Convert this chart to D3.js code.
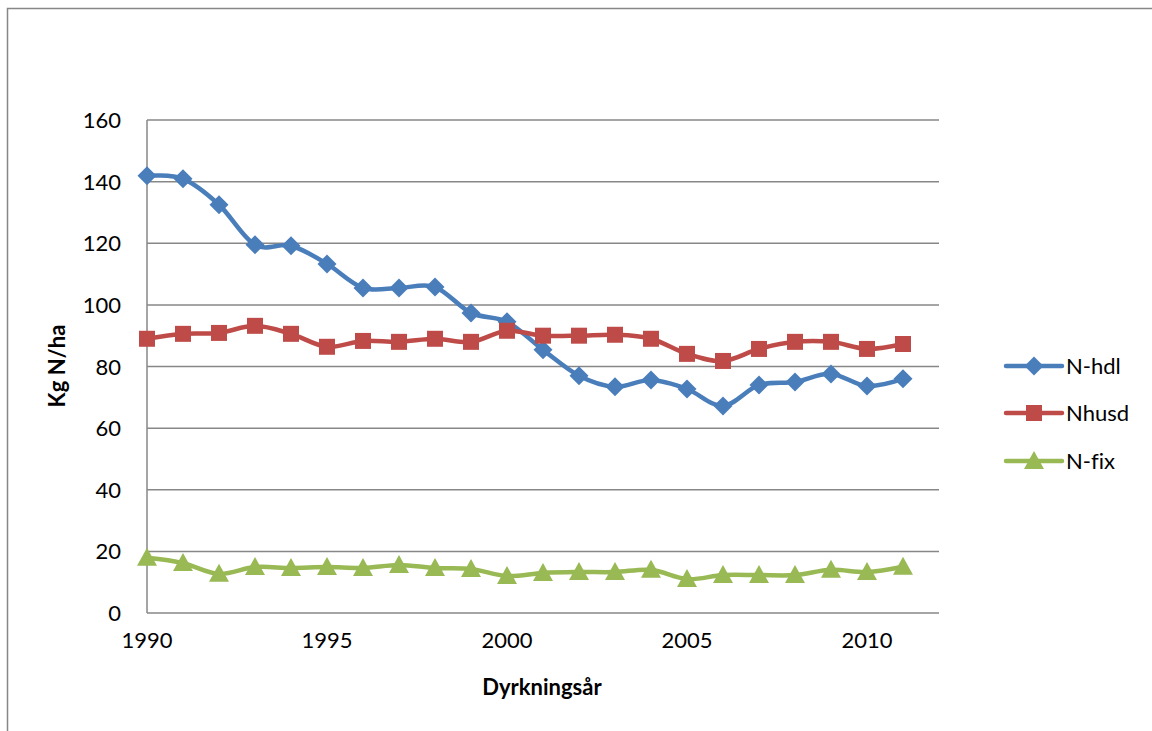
<!DOCTYPE html>
<html>
<head>
<meta charset="utf-8">
<script src="https://cdn.jsdelivr.net/npm/d3@7"></script>
<style>
	body { margin:0; background:#fff; }
	text { font-family: Lato, "Open Sans", sans-serif; fill:#000; font-variant-ligatures:none; }
</style>
</head>
<body>
<div id="idChart"></div>
<script>
var aYears=[1990,1991,1992,1993,1994,1995,1996,1997,1998,1999,2000,2001,2002,2003,2004,2005,2006,2007,2008,2009,2010,2011];
var aNhdl=[141.9,140.9,132.5,119.5,119.2,113.3,105.5,105.5,105.8,97.4,94.5,85.4,77,73.4,75.6,72.7,67.2,74,75,77.6,73.7,76];
var aNhusd=[89,90.6,90.9,93.2,90.6,86.4,88.3,88,89,88,91.6,90,90,90.3,89,84.1,81.8,85.7,88,88,85.7,87.3];
var aNfix=[17.9,16.2,12.7,14.9,14.6,14.9,14.6,15.6,14.6,14.3,12,13,13.3,13.3,14,11,12.3,12.3,12.3,14,13.3,15];
var aYTicks=[0,20,40,60,80,100,120,140,160];
var aXTicks=[1990,1995,2000,2005,2010];

var aSeries=[
	{sName:"N-hdl", aValues:aNhdl, sColor:"#4A7EBB", sShape:"diamond"},
	{sName:"Nhusd", aValues:aNhusd, sColor:"#BE4B48", sShape:"square"},
	{sName:"N-fix", aValues:aNfix, sColor:"#98B954", sShape:"triangle"}
];

var iWidth=1152, iHeight=731;
var sGrid="#878787";
var sFontSize="22px";

var myCanvas=d3.select("#idChart").append("svg")
	.attr("width",iWidth)
	.attr("height",iHeight);

// chart border
myCanvas.append("rect")
	.attr("x",7.5).attr("y",8.5)
	.attr("width",1160).attr("height",740)
	.attr("fill","none").attr("stroke",sGrid).attr("stroke-width",1.5);

var xAxes=d3.scaleLinear().domain([1990,2012]).range([147,939]);
var yAxes=d3.scaleLinear().domain([0,160]).range([613,120]);

// gridlines
myCanvas.selectAll(".grid").data(aYTicks.slice(1)).enter().append("line")
	.attr("class","grid")
	.attr("x1",xAxes(1990)).attr("x2",xAxes(2012))
	.attr("y1",function(d){return yAxes(d);}).attr("y2",function(d){return yAxes(d);})
	.attr("stroke",sGrid).attr("stroke-width",1.5);

// axis lines
myCanvas.append("line")
	.attr("x1",xAxes(1990)).attr("x2",xAxes(2012))
	.attr("y1",yAxes(0)).attr("y2",yAxes(0))
	.attr("stroke",sGrid).attr("stroke-width",1.5);
myCanvas.append("line")
	.attr("x1",xAxes(1990)).attr("x2",xAxes(1990))
	.attr("y1",yAxes(0)).attr("y2",yAxes(160))
	.attr("stroke",sGrid).attr("stroke-width",1.5);

// tick labels
myCanvas.selectAll(".ylab").data(aYTicks).enter().append("text")
	.attr("class","ylab")
	.attr("x",121)
	.attr("y",function(d){return yAxes(d)+8;})
	.attr("text-anchor","end")
	.style("font-size",sFontSize)
	.text(function(d){return d;});

myCanvas.selectAll(".xlab").data(aXTicks).enter().append("text")
	.attr("class","xlab")
	.attr("x",function(d){return xAxes(d);})
	.attr("y",648)
	.attr("text-anchor","middle")
	.style("font-size",sFontSize)
	.text(function(d){return d;});

// axis titles
myCanvas.append("text")
	.attr("x",542).attr("y",695)
	.attr("text-anchor","middle")
	.style("font-size",sFontSize).style("font-weight","bold")
	.text("Dyrkningsår");

myCanvas.append("text")
	.attr("transform","translate(65,366) rotate(-90)")
	.attr("text-anchor","middle")
	.style("font-size",sFontSize).style("font-weight","bold")
	.text("Kg N/ha");

var myLine=d3.line()
	.x(function(d,i){return xAxes(aYears[i]);})
	.y(function(d){return yAxes(d);})
	.curve(d3.curveCatmullRom.alpha(0));

function MarkerPath(sShape)
{
	if(sShape=="diamond") return "M0,-9.5L9.5,0L0,9.5L-9.5,0Z";
	if(sShape=="square") return "M-8,-8H8V8H-8Z";
	return "M0,-10L10,8H-10Z";
}

aSeries.forEach(function(oSeries){
	myCanvas.append("path")
		.attr("d",myLine(oSeries.aValues))
		.attr("fill","none")
		.attr("stroke",oSeries.sColor)
		.attr("stroke-width",4.5)
		.attr("stroke-linejoin","round");
	myCanvas.selectAll(".m"+oSeries.sShape).data(oSeries.aValues).enter().append("path")
		.attr("class","m"+oSeries.sShape)
		.attr("d",MarkerPath(oSeries.sShape))
		.attr("transform",function(d,i){return "translate("+xAxes(aYears[i])+","+yAxes(d)+")";})
		.attr("fill",oSeries.sColor);
});

// legend
var aLegendY=[366,413,461];
aSeries.forEach(function(oSeries,i){
	var g=myCanvas.append("g").attr("transform","translate(1006,"+aLegendY[i]+")");
	g.append("line").attr("x1",0).attr("x2",56).attr("y1",0).attr("y2",0)
		.attr("stroke",oSeries.sColor).attr("stroke-width",4.5).attr("stroke-linecap","round");
	g.append("path").attr("d",MarkerPath(oSeries.sShape))
		.attr("transform","translate(28,0)")
		.attr("fill",oSeries.sColor);
	g.append("text").attr("x",60).attr("y",8)
		.style("font-size",sFontSize)
		.text(oSeries.sName);
});
</script>
</body>
</html>
